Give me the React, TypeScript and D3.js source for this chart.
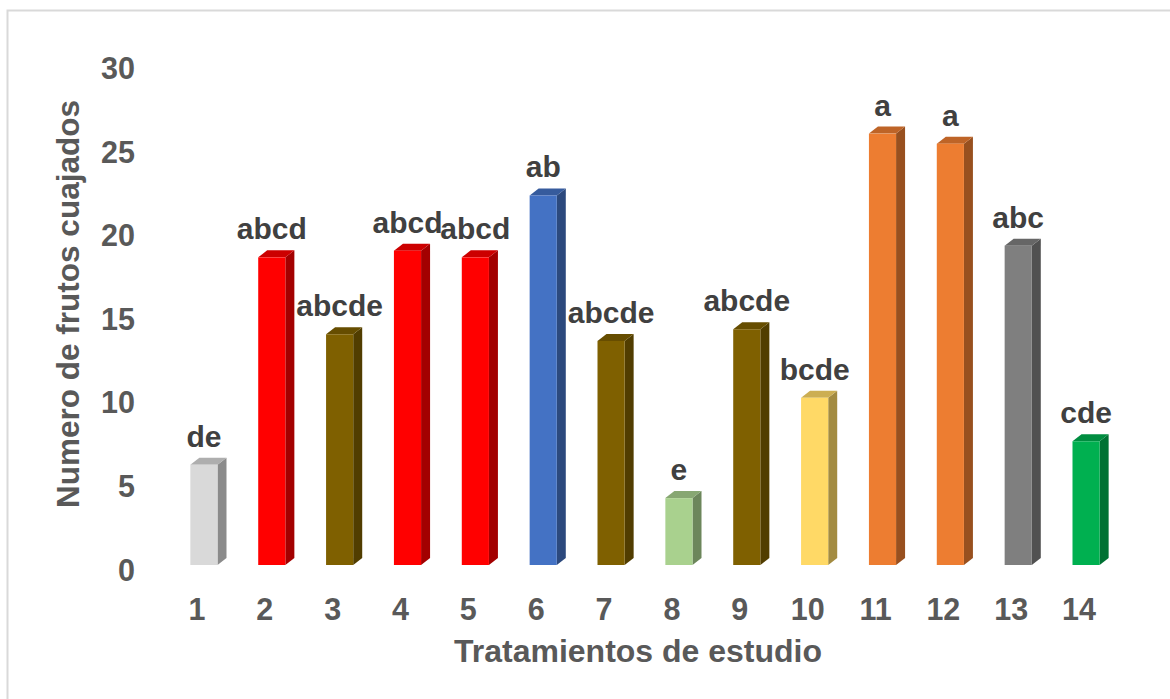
import React from 'react'
import * as d3 from 'd3'

// Tratamientos (categories), valores and letras de significancia
const categories = ['1', '2', '3', '4', '5', '6', '7', '8', '9', '10', '11', '12', '13', '14']
const values = [6.0, 18.4, 13.8, 18.8, 18.4, 22.1, 13.4, 4.0, 14.1, 10.0, 25.8, 25.2, 19.1, 7.4]
const letters = ['de', 'abcd', 'abcde', 'abcd', 'abcd', 'ab', 'abcde', 'e', 'abcde', 'bcde', 'a', 'a', 'abc', 'cde']
const barColors = [
  '#d9d9d9', '#ff0000', '#7f6000', '#ff0000', '#ff0000', '#4472c4', '#7f6000',
  '#a9d18e', '#7f6000', '#ffd966', '#ed7d31', '#ed7d31', '#7f7f7f', '#00b050',
]
const yTicks = [0, 5, 10, 15, 20, 25, 30]

const W = 1170
const H = 699
const FONT = '"Liberation Sans", Arial, sans-serif'

const shade = (c: string, k: number) => {
  const rgb = d3.rgb(c)
  return d3.rgb(rgb.r * k, rgb.g * k, rgb.b * k).formatHex()
}

const App: React.FC = () => {
  const x = d3.scaleBand().domain(categories).range([170, 1120]).padding(0)
  const y = d3.scaleLinear().domain([0, 30]).range([565, 565 - 30 * 16.72])

  const bw = x.bandwidth()
  const fw = bw * 0.4 // front face width
  const dx = 9 // depth offsets
  const dy = 7
  const y0 = y(0)

  return (
    <svg
      width={W}
      height={H}
      style={{ position: 'absolute', left: 0, top: 0, background: '#fff' }}
      fontFamily={FONT}
      fontWeight="bold"
    >
      {/* chart border */}
      <rect x={7.5} y={10.5} width={W} height={H} fill="none" stroke="#d9d9d9" strokeWidth={2} />

      {/* y tick labels */}
      {yTicks.map((t) => (
        <text key={t} x={135} y={y(t) + 5} dy="0.35em" textAnchor="end" fontSize={30.5} fill="#595959">
          {t}
        </text>
      ))}

      {/* bars */}
      {categories.map((c, i) => {
        const bx = x(c)! + (bw - fw) / 2
        const yt = y(values[i])
        const col = barColors[i]
        const top = `${bx},${yt} ${bx + dx},${yt - dy} ${bx + fw + dx},${yt - dy} ${bx + fw},${yt}`
        const side = `${bx + fw},${yt} ${bx + fw + dx},${yt - dy} ${bx + fw + dx},${y0 - dy} ${bx + fw},${y0}`
        return (
          <g key={c}>
            <polygon points={side} fill={shade(col, 0.64)} />
            <polygon points={top} fill={shade(col, 0.8)} />
            <rect x={bx} y={yt} width={fw} height={y0 - yt} fill={col} />
            <text x={bx + fw / 2} y={yt - dy - 11} textAnchor="middle" fontSize={30} fill="#404040">
              {letters[i]}
            </text>
          </g>
        )
      })}

      {/* x tick labels */}
      {categories.map((c) => (
        <text key={c} x={x(c)! + bw / 2 - 7} y={620} textAnchor="middle" fontSize={30.5} fill="#595959">
          {c}
        </text>
      ))}

      {/* axis titles */}
      <text x={638} y={662} textAnchor="middle" fontSize={32} fill="#595959">
        Tratamientos de estudio
      </text>
      <text transform="translate(79,304) rotate(-90)" textAnchor="middle" fontSize={31.5} fill="#595959">
        Numero de frutos cuajados
      </text>
    </svg>
  )
}

export default App
